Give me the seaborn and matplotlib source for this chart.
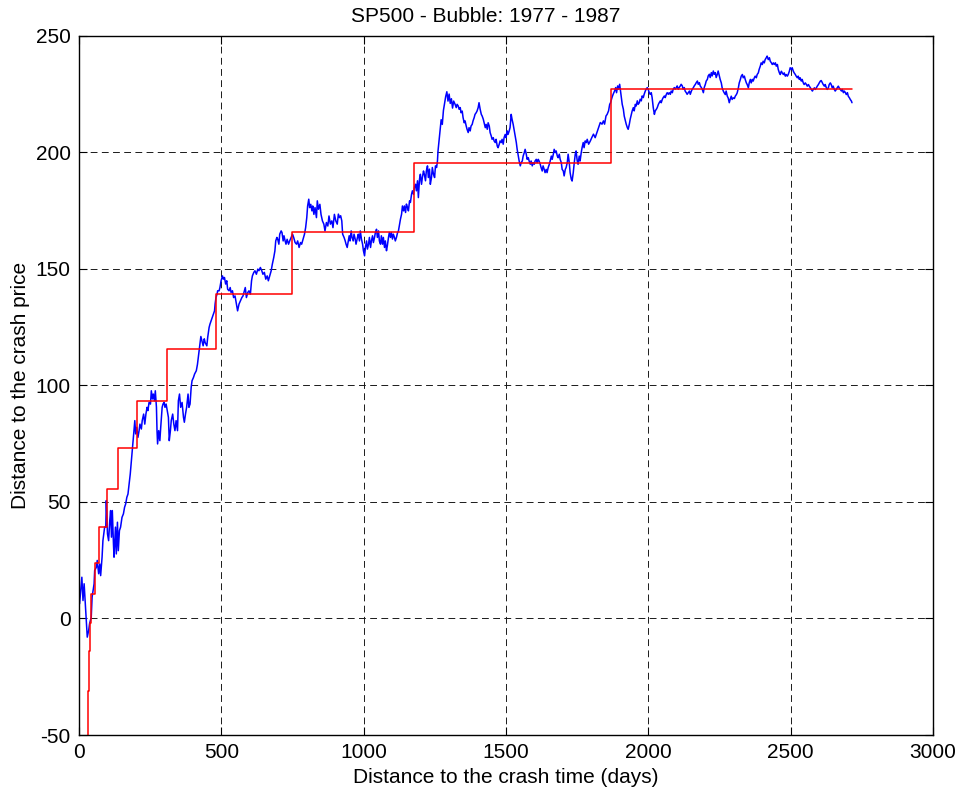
import matplotlib
matplotlib.use("Agg")
import matplotlib.pyplot as plt
import numpy as np
import pandas as pd
import seaborn as sns

# S&P 500 distance to the crash price, sampled along the 1977-1987 bubble
days = [
    2, 10, 14, 18, 22, 26, 29, 34, 37, 43, 46, 53, 55, 61, 64, 69, 73, 76, 81, 84,
    90, 94, 96, 100, 104, 108, 111, 114, 117, 121, 123, 128, 131, 135, 138, 142, 146, 151, 156, 160,
    164, 168, 172, 176, 180, 184, 187, 190, 193, 196, 199, 203, 207, 211, 214, 219, 222, 227, 231, 235,
    239, 242, 246, 251, 254, 258, 261, 265, 268, 272, 274, 276, 280, 284, 287, 292, 295, 299, 302, 306,
    310, 314, 317, 321, 324, 329, 333, 337, 341, 346, 349, 353, 357, 362, 367, 370, 374, 378, 383, 386,
    390, 394, 397, 402, 406, 412, 416, 420, 424, 428, 432, 436, 440,
    443, 449, 452, 457, 460, 464, 468, 472, 476, 478, 481, 485, 487, 492, 495, 499, 504, 507, 511, 515,
    519, 522, 527, 531, 534, 539, 543, 548, 553, 557, 562, 567, 572, 576, 581, 584, 588, 593, 597, 602,
    606, 609, 614, 618, 623, 628, 632, 637, 642, 646, 651, 656, 661, 665, 670, 675, 679, 684, 688, 691,
    695, 698, 702, 705, 710, 713, 717, 720, 724, 727, 731, 736, 740, 745, 750, 754, 759, 764, 768, 773,
    778, 782, 787, 792, 796, 800, 803, 807, 810, 814, 818, 821, 825, 829, 834, 837, 841, 846, 850, 855,
    860, 864, 869, 874, 878, 883, 888, 892, 897, 902, 907,
    911, 915, 919, 923, 926, 931, 935, 938, 942, 945, 949, 952, 956, 959, 963, 966, 970, 973, 978, 981,
    985, 988, 992, 996, 999, 1003, 1006, 1010, 1013, 1017, 1020, 1024, 1027, 1031, 1034, 1038, 1041, 1045, 1048, 1052,
    1055, 1059, 1062, 1066, 1069, 1073, 1076, 1080, 1083, 1087, 1090, 1094, 1097, 1101, 1104, 1108, 1111, 1115, 1119, 1122,
    1126, 1129, 1133, 1136, 1140, 1143, 1147, 1150, 1154, 1157, 1161, 1164, 1168, 1171, 1175, 1178, 1182, 1185, 1189, 1192,
    1196, 1199, 1203, 1206, 1210, 1213, 1217, 1220, 1224, 1227, 1231, 1234, 1238, 1241, 1245, 1249, 1252, 1256, 1259, 1261,
    1264, 1268, 1272, 1276, 1280, 1284, 1288, 1292, 1296, 1300, 1304, 1308, 1312, 1316,
    1321, 1325, 1328, 1332, 1335, 1339, 1342, 1346, 1349, 1353, 1356, 1360, 1363, 1367, 1370, 1374, 1377, 1381, 1384, 1388,
    1391, 1395, 1398, 1402, 1405, 1409, 1413, 1416, 1420, 1423, 1427, 1430, 1434, 1437, 1441, 1444, 1448, 1451, 1455, 1458,
    1462, 1465, 1469, 1472, 1476, 1479, 1483, 1486, 1490, 1493, 1497, 1500, 1504, 1507, 1511, 1514, 1518, 1521, 1525, 1528,
    1532, 1536, 1539, 1543, 1546, 1550, 1553, 1557, 1560, 1564, 1567, 1571, 1574, 1578, 1581, 1585, 1588, 1592, 1595, 1599,
    1602, 1606, 1609, 1613, 1616, 1620, 1623, 1627, 1630, 1634, 1637, 1641, 1644, 1648, 1652, 1655, 1659, 1662, 1666, 1669,
    1673, 1676, 1680, 1683, 1687, 1690, 1694, 1697, 1701, 1704, 1708, 1711, 1715, 1718, 1722, 1725, 1729, 1732, 1736, 1739,
    1743, 1746, 1750, 1753, 1757, 1760, 1764, 1767, 1771, 1774, 1778, 1782, 1785, 1790, 1796,
    1801, 1807, 1813, 1819, 1825, 1831, 1837, 1842, 1846, 1851, 1855, 1860, 1864, 1867, 1872, 1876, 1881, 1885, 1888, 1892,
    1895, 1899, 1902, 1905, 1908, 1912, 1915, 1919, 1922, 1926, 1929, 1933, 1936, 1940, 1943, 1947, 1950, 1954, 1957, 1961,
    1964, 1968, 1971, 1975, 1978, 1982, 1985, 1989, 1992, 1996, 1999, 2003, 2006, 2010, 2013, 2017, 2021, 2024, 2028, 2031,
    2035, 2038, 2042, 2045, 2049, 2052, 2056, 2059, 2063, 2066, 2070, 2073, 2077, 2080, 2084, 2087, 2091, 2094, 2098, 2101,
    2105, 2108, 2112, 2115, 2119, 2122, 2126, 2129, 2133, 2136, 2140, 2144, 2147, 2151, 2154, 2158, 2161, 2165, 2168, 2172,
    2175, 2179, 2182, 2186, 2189, 2193, 2196, 2200, 2203, 2207, 2210, 2214, 2217, 2221, 2224, 2228, 2231, 2235, 2238, 2242,
    2245, 2249, 2252,
    2256, 2259, 2263, 2266, 2270, 2273, 2277, 2280, 2284, 2287, 2291, 2294, 2298, 2302, 2305, 2309, 2312, 2316, 2319, 2323,
    2326, 2330, 2333, 2337, 2340, 2344, 2347, 2351, 2354, 2358, 2361, 2365, 2368, 2372, 2375, 2379, 2382, 2386, 2389, 2393,
    2396, 2400, 2403, 2407, 2410, 2414, 2417, 2421, 2425, 2428, 2432, 2435, 2439, 2442, 2446, 2449, 2453, 2456, 2460, 2463,
    2467, 2470, 2474, 2477, 2481, 2484, 2488, 2491, 2495, 2498, 2502, 2505, 2509, 2512, 2516, 2519, 2523, 2526, 2530, 2533,
    2537, 2540, 2544, 2547, 2551, 2555, 2558, 2562, 2565, 2569, 2572, 2576, 2579, 2583, 2586, 2590, 2593, 2597, 2600, 2604,
    2607, 2611, 2614, 2618, 2621, 2625, 2628, 2632, 2635, 2639, 2642, 2646, 2649, 2653, 2656, 2660, 2663, 2667, 2670, 2674,
    2678, 2681, 2685, 2688, 2692, 2695, 2699, 2702, 2706, 2709, 2713, 2715,
]
distance = [
    6.3, 17.7, 7.7, 14.9, 6.3, -2.3, -8.0, -5.1, -2.3, 0.6, 9.2, 14.9, 20.6, 22.0, 24.9, 19.2, 23.4, 18.4, 26.3, 33.4,
    39.2, 39.2, 50.6, 36.3, 33.4, 42.0, 46.3, 34.9, 46.3, 32.0, 26.3, 39.2, 27.7, 41.3, 29.1, 37.7, 39.2, 43.4, 44.9, 47.7,
    49.2, 52.0, 53.4, 57.7, 62.0, 67.7, 72.0, 76.3, 80.6, 84.9, 79.2, 82.0, 77.7, 80.6, 83.4, 81.3, 84.9, 87.7, 83.4, 87.7,
    90.6, 89.2, 92.7, 92.0, 97.7, 94.2, 96.3, 93.4, 97.7, 90.6, 80.6, 74.9, 80.6, 76.3, 82.0, 90.6, 92.0, 92.7, 90.6, 92.0,
    89.2, 86.3, 76.3, 80.6, 84.9, 87.7, 83.4, 80.6, 84.9, 80.6, 93.4, 96.3, 90.6, 92.7, 86.3, 84.2, 87.7, 90.6, 96.3, 90.6,
    92.0, 99.2, 102.0, 103.4, 104.9, 106.3, 109.0, 113.0, 117.0, 121.0, 119.0, 117.0, 120.0,
    118.4, 117.0, 120.6, 124.9, 126.3, 127.7, 129.2, 130.6, 132.0, 134.9, 137.7, 139.2, 140.6, 140.6, 142.0, 144.9, 147.0, 145.6, 146.3, 143.5,
    144.9, 141.3, 140.6, 142.0, 139.9, 140.6, 137.7, 138.4, 134.9, 132.0, 134.9, 136.3, 137.7, 138.4, 140.6, 142.0, 137.7, 139.9, 140.6, 139.2,
    144.9, 147.0, 148.5, 149.2, 147.7, 149.9, 149.2, 150.6, 149.2, 147.7, 148.5, 145.6, 147.0, 144.9, 147.0, 149.2, 152.0, 154.9, 157.7, 162.0,
    163.5, 162.7, 160.6, 164.9, 166.3, 165.6, 162.0, 164.2, 162.0, 160.6, 162.7, 160.6, 162.0, 163.5, 164.9, 163.5, 161.3, 160.6, 162.0, 159.2,
    161.3, 160.6, 162.7, 164.9, 167.7, 172.0, 177.0, 179.9, 176.3, 177.7, 174.9, 177.0, 173.4, 176.3, 172.0, 179.2, 175.6, 177.7, 173.4, 170.6,
    169.2, 166.3, 169.9, 168.4, 172.7, 169.2, 170.6, 167.7, 173.4, 170.6, 169.2,
    173.5, 172.0, 172.8, 170.6, 164.9, 163.5, 162.0, 160.6, 159.2, 161.3, 164.2, 162.0, 166.3, 163.5, 162.0, 164.9, 162.8, 160.6, 163.5, 164.9,
    162.0, 166.3, 162.8, 160.6, 157.8, 155.6, 159.2, 162.0, 158.5, 160.6, 163.5, 159.2, 162.0, 164.2, 161.3, 163.5, 165.6, 167.0, 163.5, 166.3,
    162.0, 160.6, 164.2, 160.6, 163.5, 159.2, 162.0, 157.8, 159.9, 163.5, 165.6, 163.5, 165.6, 162.8, 164.9, 163.5, 162.0, 163.5, 165.6, 166.3,
    169.2, 171.3, 173.5, 177.0, 174.9, 177.0, 174.2, 177.8, 176.3, 174.9, 179.2, 178.5, 182.0, 183.5, 182.0, 184.9, 186.3, 183.5, 187.8, 180.6,
    188.5, 190.6, 186.3, 189.2, 192.0, 190.6, 187.8, 192.0, 194.2, 189.2, 192.8, 186.3, 189.2, 193.5, 190.6, 189.2, 194.2, 193.5, 196.3, 200.6,
    204.2, 209.0, 214.0, 212.0, 218.0, 221.0, 224.0, 226.0, 222.0, 225.0, 221.0, 223.0, 219.0, 222.0,
    220.6, 219.2, 220.6, 219.9, 218.5, 219.2, 217.0, 217.7, 214.9, 212.7, 213.5, 211.3, 209.9, 208.5, 210.6, 209.2, 211.3, 212.0, 213.5, 214.9,
    216.3, 217.0, 217.7, 219.2, 221.3, 218.5, 216.3, 215.6, 214.2, 212.7, 210.6, 212.0, 209.9, 212.7, 211.3, 208.5, 207.0, 205.6, 206.3, 204.9,
    204.2, 205.6, 202.7, 202.0, 203.5, 204.9, 204.2, 205.6, 203.5, 206.3, 207.7, 206.3, 209.2, 207.7, 209.2, 210.6, 216.3, 214.2, 212.0, 209.9,
    207.0, 204.2, 201.3, 198.4, 196.3, 194.2, 195.6, 196.3, 198.4, 199.9, 201.3, 199.2, 197.0, 197.7, 196.3, 194.9, 196.3, 194.2, 195.6, 194.9,
    196.3, 197.0, 195.6, 197.0, 196.3, 194.9, 193.5, 192.0, 194.2, 192.7, 191.3, 192.7, 191.3, 193.5, 194.9, 196.3, 198.4, 197.0, 199.2, 201.3,
    199.9, 200.6, 198.4, 197.7, 199.2, 197.0, 195.6, 192.7, 192.0, 189.9, 192.7, 193.5, 195.6, 199.2, 195.6, 191.3, 188.5, 187.7, 191.3, 194.9,
    199.2, 200.6, 196.3, 194.9, 198.4, 196.3, 199.9, 202.0, 204.2, 202.0, 204.9, 204.2, 205.6, 203.5, 204.9,
    206.3, 207.8, 206.3, 208.5, 210.6, 212.8, 212.1, 213.5, 212.1, 215.6, 216.3, 217.8, 220.6, 221.3, 223.5, 224.9, 226.3, 227.8, 225.6, 228.5,
    227.1, 229.2, 226.3, 223.5, 220.6, 218.5, 215.6, 213.5, 212.1, 210.6, 209.9, 212.1, 214.2, 216.3, 217.8, 219.2, 217.8, 220.6, 219.9, 222.1,
    220.6, 221.3, 222.8, 222.1, 224.2, 223.5, 224.9, 226.3, 227.1, 227.8, 227.1, 225.6, 224.9, 225.6, 223.5, 219.2, 216.3, 217.8, 218.5, 219.2,
    220.6, 221.3, 222.1, 221.3, 222.8, 223.5, 224.2, 223.5, 224.9, 225.6, 224.9, 225.6, 224.9, 226.3, 225.6, 227.1, 227.8, 227.1, 227.8, 228.5,
    227.1, 227.8, 228.5, 229.2, 228.5, 227.1, 227.8, 226.3, 225.6, 224.9, 225.6, 226.3, 224.9, 226.3, 227.1, 227.8, 228.5, 229.2, 229.9, 230.6,
    229.2, 229.9, 228.5, 227.8, 227.1, 225.6, 227.8, 229.2, 230.6, 231.3, 232.8, 233.5, 232.1, 234.2, 232.8, 234.9, 233.5, 234.2, 232.1, 233.5,
    234.9, 232.8, 231.3,
    229.8, 227.7, 226.3, 225.6, 224.8, 226.3, 224.1, 223.4, 221.3, 222.7, 224.1, 222.7, 223.4, 223.1, 224.1, 224.8, 225.6, 227.7, 229.8, 231.3,
    232.7, 233.4, 232.0, 232.7, 231.3, 229.8, 229.1, 227.7, 229.8, 231.3, 229.8, 231.3, 230.6, 232.0, 232.7, 232.0, 233.4, 234.1, 235.6, 237.0,
    238.4, 237.7, 239.1, 238.4, 239.8, 240.6, 241.3, 239.8, 240.6, 239.1, 238.4, 237.7, 238.4, 237.7, 238.4, 237.0, 237.7, 235.6, 234.1, 233.4,
    234.8, 234.1, 233.4, 234.1, 232.7, 233.4, 232.7, 233.4, 234.8, 236.3, 235.6, 236.3, 234.8, 234.1, 233.4, 232.7, 232.0, 232.7, 231.3, 232.0,
    230.6, 231.3, 229.8, 229.1, 229.8, 229.1, 228.4, 229.1, 228.4, 227.7, 227.0, 226.3, 227.0, 227.7, 227.0, 227.7, 228.4, 229.1, 229.8, 230.6,
    230.8, 229.8, 229.1, 228.4, 229.1, 227.7, 227.0, 227.7, 229.1, 229.8, 229.1, 227.7, 228.4, 227.0, 226.3, 227.0, 227.7, 228.4, 227.7, 227.0,
    226.3, 227.0, 225.6, 226.3, 225.6, 224.8, 225.6, 224.1, 223.4, 222.7, 222.0, 221.3,
]

# Step levels of the fitted staircase (value holds until the next breakpoint)
step_days = [31, 32, 35, 40, 43, 55, 69, 100, 137, 202, 310, 481, 748, 1178, 1869, 2714]
step_levels = [-80, -31, -14, -2, 10.3, 23.7, 39.2, 55.6, 73.3, 93.5, 115.8, 139.3, 166.0, 195.3, 227.3, 227.3]

x_ticks = [0, 500, 1000, 1500, 2000, 2500, 3000]
y_ticks = [-50, 0, 50, 100, 150, 200, 250]

series = pd.DataFrame({"day": days, "distance": distance})
steps = pd.DataFrame({"day": step_days, "level": step_levels})

sns.set_theme(style="white")
plt.rcParams["font.family"] = ["Liberation Sans", "DejaVu Sans"]
plt.rcParams["text.color"] = "black"
plt.rcParams["axes.labelcolor"] = "black"

fig = plt.figure(figsize=(9.6, 7.96), dpi=100)
ax = fig.add_axes([0.0823, 0.0766, 0.8897, 0.8784])

sns.lineplot(data=series, x="day", y="distance", ax=ax, color="#0000ff",
             linewidth=1.1, estimator=None, sort=False)
sns.lineplot(data=steps, x="day", y="level", ax=ax, color="#ff0000",
             linewidth=1.1, estimator=None, sort=False, drawstyle="steps-post")

ax.set_xlim(0, 3000)
ax.set_ylim(-50, 250)
ax.set_xticks(x_ticks)
ax.set_yticks(y_ticks)
ax.set_xticklabels([str(t) for t in x_ticks])
ax.set_yticklabels([str(t) for t in y_ticks])

ax.grid(True, color="0.1", linestyle=(0, (7, 4.5)), linewidth=0.7)
ax.set_axisbelow(True)
for side in ax.spines.values():
    side.set_visible(True)
    side.set_color("black")
    side.set_linewidth(1.0)

ax.tick_params(axis="both", which="major", direction="in", length=6, width=0.8,
               colors="black", labelsize=15, pad=6,
               top=True, right=True, bottom=True, left=True)

fig.text(486 / 960, 1 - 17 / 796, "SP500 - Bubble: 1977 - 1987", fontsize=15,
         ha="center", va="center", color="black")
ax.set_xlabel("Distance to the crash time (days)", fontsize=15, labelpad=4)
ax.set_ylabel("Distance to the crash price", fontsize=15, labelpad=4)

fig.savefig("out.png", dpi=100, facecolor="white")
